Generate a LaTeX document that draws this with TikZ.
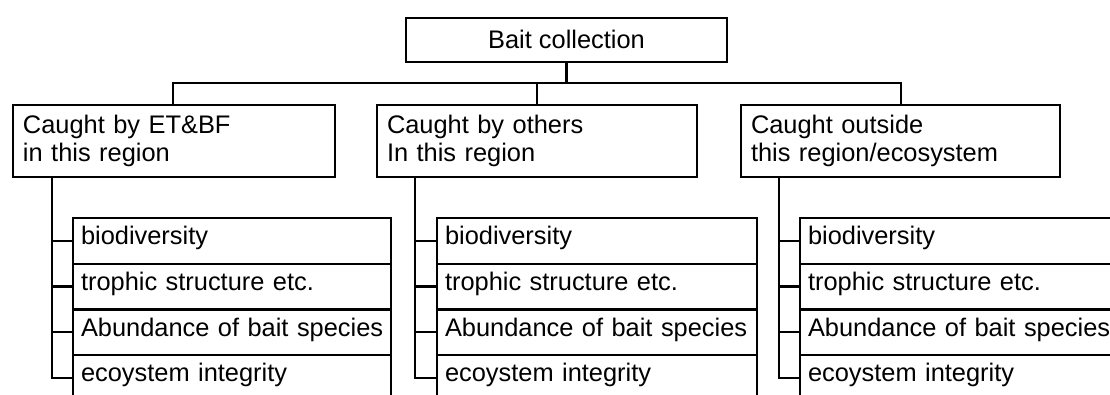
\documentclass[tikz,border=0pt]{standalone}
\usepackage{fontspec}
\setmainfont{Liberation Sans}
\begin{document}
\begin{tikzpicture}[x=1pt,y=-1pt,line width=2.4pt,
  every node/.style={font=\fontsize{25.4}{28}\selectfont, outer sep=0pt},
  topbox/.style={draw, anchor=north west, minimum width=321pt, minimum height=44pt, inner sep=0pt, text height=19pt, text depth=3pt},
  midbox/.style={draw, anchor=north west, text width=#1, align=left, minimum height=72pt, inner xsep=10pt, inner ysep=0pt},
  rowbox/.style={draw, anchor=north west, text width=#1, align=left, minimum height=45.7pt, inner xsep=8pt, inner ysep=0pt, text height=18pt, text depth=10pt}]
\useasboundingbox (0,0) rectangle (1110,394);

% top
\node[topbox] (top) at (406,18) {Bait collection};

% second level
\node[midbox=302pt] (b1) at (13,105) {Caught by ET\&BF\\in this region};
\node[midbox=300pt] (b2) at (377,105) {Caught by others\\In this region};
\node[midbox=299pt] (b3) at (741,105) {Caught outside\\this region/ecosystem};

% connectors top
\coordinate (j1) at (173,83);
\coordinate (j2) at (537,83);
\coordinate (j3) at (901,83);
\draw (top.south) -- (top.south |- j1);
\draw (j1 |- b1.north) -- (j1) -- (j3) -- (j3 |- b3.north);
\draw (j2) -- (j2 |- b2.north);

% third level rows
\foreach \c/\x/\w in {1/73/302pt, 2/437/304pt, 3/800/314pt}{
  \node[rowbox=\w] (c\c a) at (\x,218) {biodiversity};
  \node[rowbox=\w] (c\c b) at (c\c a.south west) {trophic structure etc.};
  \node[rowbox=\w] (c\c c) at (c\c b.south west) {\mbox{Abundance of bait species}};
  \node[rowbox=\w] (c\c d) at (c\c c.south west) {ecoystem integrity};
}

% vertical branches
\foreach \c/\v in {1/52, 2/415, 3/779}{
  \coordinate (v\c) at (\v,0);
  \draw (b\c.south -| v\c) |- (c\c d.west);
  \draw (c\c a.west -| v\c) -- (c\c a.west);
  \draw (c\c b.west -| v\c) -- (c\c b.west);
  \draw (c\c c.west -| v\c) -- (c\c c.west);
}
\end{tikzpicture}
\end{document}
